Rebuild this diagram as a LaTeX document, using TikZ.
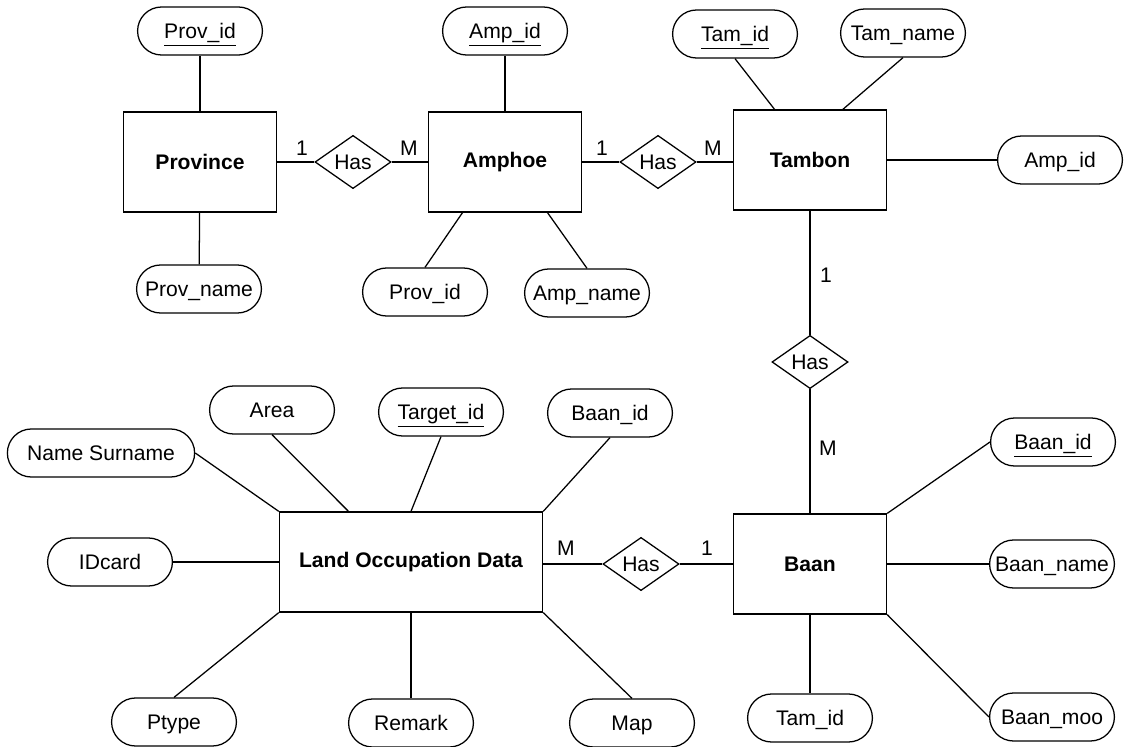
\documentclass[tikz,border=0pt]{standalone}
\usepackage{fontspec}
\setmainfont{Liberation Sans}
\usepackage{tikz}
\usetikzlibrary{shapes.geometric}
\newcommand{\erfont}{\fontsize{15}{18}\selectfont}
\tikzset{
  entity/.style={rectangle, draw, line width=0.9pt, minimum width=3.83cm, minimum height=2.5cm,
                 font=\erfont\bfseries, inner sep=2pt, align=center},
  attr/.style={rectangle, draw, line width=0.9pt, rounded corners=0.6cm, minimum width=3.12cm,
               minimum height=1.2cm, font=\erfont, inner sep=2pt, text height=13pt, text depth=2pt},
  rel/.style={diamond, draw, line width=0.9pt, aspect=1.45, minimum width=1.9cm, minimum height=1.33cm,
              inner sep=0pt, font=\erfont},
  card/.style={font=\erfont, inner sep=0pt},
  link/.style={line width=0.9pt},
}

\begin{document}
\begin{tikzpicture}[x=0.025cm, y=-0.025cm]
    \useasboundingbox (0,0) rectangle (1124,747);
    % top row
    \node[entity] (province) at (200,162) {Province};
    \node[attr] (provid) at (200,31) {\underline{Prov\_id}};
    \node[attr] (provname) at (199,289) {Prov\_name};
    \node[rel] (has1) at (353,162) {Has};
    \node[entity] (amphoe) at (505,162) {Amphoe};
    \node[attr] (ampid) at (505,31) {\underline{Amp\_id}};
    \node[attr] (provid2) at (425,292) {Prov\_id};
    \node[attr] (ampname) at (587,293) {Amp\_name};
    \node[rel] (has2) at (658,162) {Has};
    \node[entity] (tambon) at (810,160) {Tambon};
    \node[attr] (tamid) at (735,34) {\underline{Tam\_id}};
    \node[attr] (tamname) at (903,33) {Tam\_name};
    \node[attr] (ampid2) at (1060,160) {Amp\_id};
    \node[rel] (has3) at (810,362) {Has};
    % bottom row
    \node[entity, minimum width=6.58cm] (lod) at (411,562) {Land Occupation Data};
    \node[attr, minimum width=4.68cm] (namesur) at (101,453) {Name Surname};
    \node[attr] (area) at (272,410) {Area};
    \node[attr] (targetid) at (441,412) {\underline{Target\_id}};
    \node[attr] (baanid) at (610,413) {Baan\_id};
    \node[attr] (idcard) at (110,562) {IDcard};
    \node[attr] (ptype) at (174,722) {Ptype};
    \node[attr] (remark) at (411,723) {Remark};
    \node[attr] (map) at (632,723) {Map};
    \node[rel] (has4) at (641,564) {Has};
    \node[entity] (baan) at (810,564) {Baan};
    \node[attr] (baanid2) at (1053,442) {\underline{Baan\_id}};
    \node[attr] (baanname) at (1052,564) {Baan\_name};
    \node[attr] (baanmoo) at (1052,717) {Baan\_moo};
    \node[attr] (tamid2) at (810,718) {Tam\_id};
    % cardinalities
    \node[card] (c1) at (302,148) {1};
    \node[card] (c2) at (409,148) {M};
    \node[card] (c3) at (602,148) {1};
    \node[card] (c4) at (713,148) {M};
    \node[card] (c5) at (826,275) {1};
    \node[card] (c6) at (828,448) {M};
    \node[card] (c7) at (566,548) {M};
    \node[card] (c8) at (707,548) {1};
    % relationships
    \draw[link] (province) -- (has1) -- (amphoe);
    \draw[link] (amphoe) -- (has2.west);
    \draw[link] (has2.east) -- (has2.east -| tambon.west);
    \draw[link] (tambon) -- (has3) -- (baan);
    \draw[link] (lod.east |- has4) -- (has4) -- (baan);
    % attributes
    \draw[link] (province) -- (provid);
    \draw[link] (province) -- (provname);
    \draw[link] (amphoe) -- (ampid);
    \draw[link] (amphoe.230) -- (provid2.north);
    \draw[link] (amphoe.310) -- (ampname.north);
    \draw[link] (tambon.125) -- (tamid.south);
    \draw[link] (tambon.57) -- (tamname.south);
    \draw[link] (tambon) -- (ampid2);
    \draw[link] (lod.north west) -- (namesur.east);
    \draw[link] (lod.141) -- (area.south);
    \draw[link] (lod.north) -- (targetid.south);
    \draw[link] (lod.north east) -- (baanid.south);
    \draw[link] (lod) -- (idcard);
    \draw[link] (lod.south west) -- (ptype.north);
    \draw[link] (lod) -- (remark);
    \draw[link] (lod.south east) -- (map.north);
    \draw[link] (baan.north east) -- (baanid2.west);
    \draw[link] (baan) -- (baanname);
    \draw[link] (baan.south east) -- (baanmoo.west);
    \draw[link] (baan) -- (tamid2);
  \end{tikzpicture}
\end{document}
